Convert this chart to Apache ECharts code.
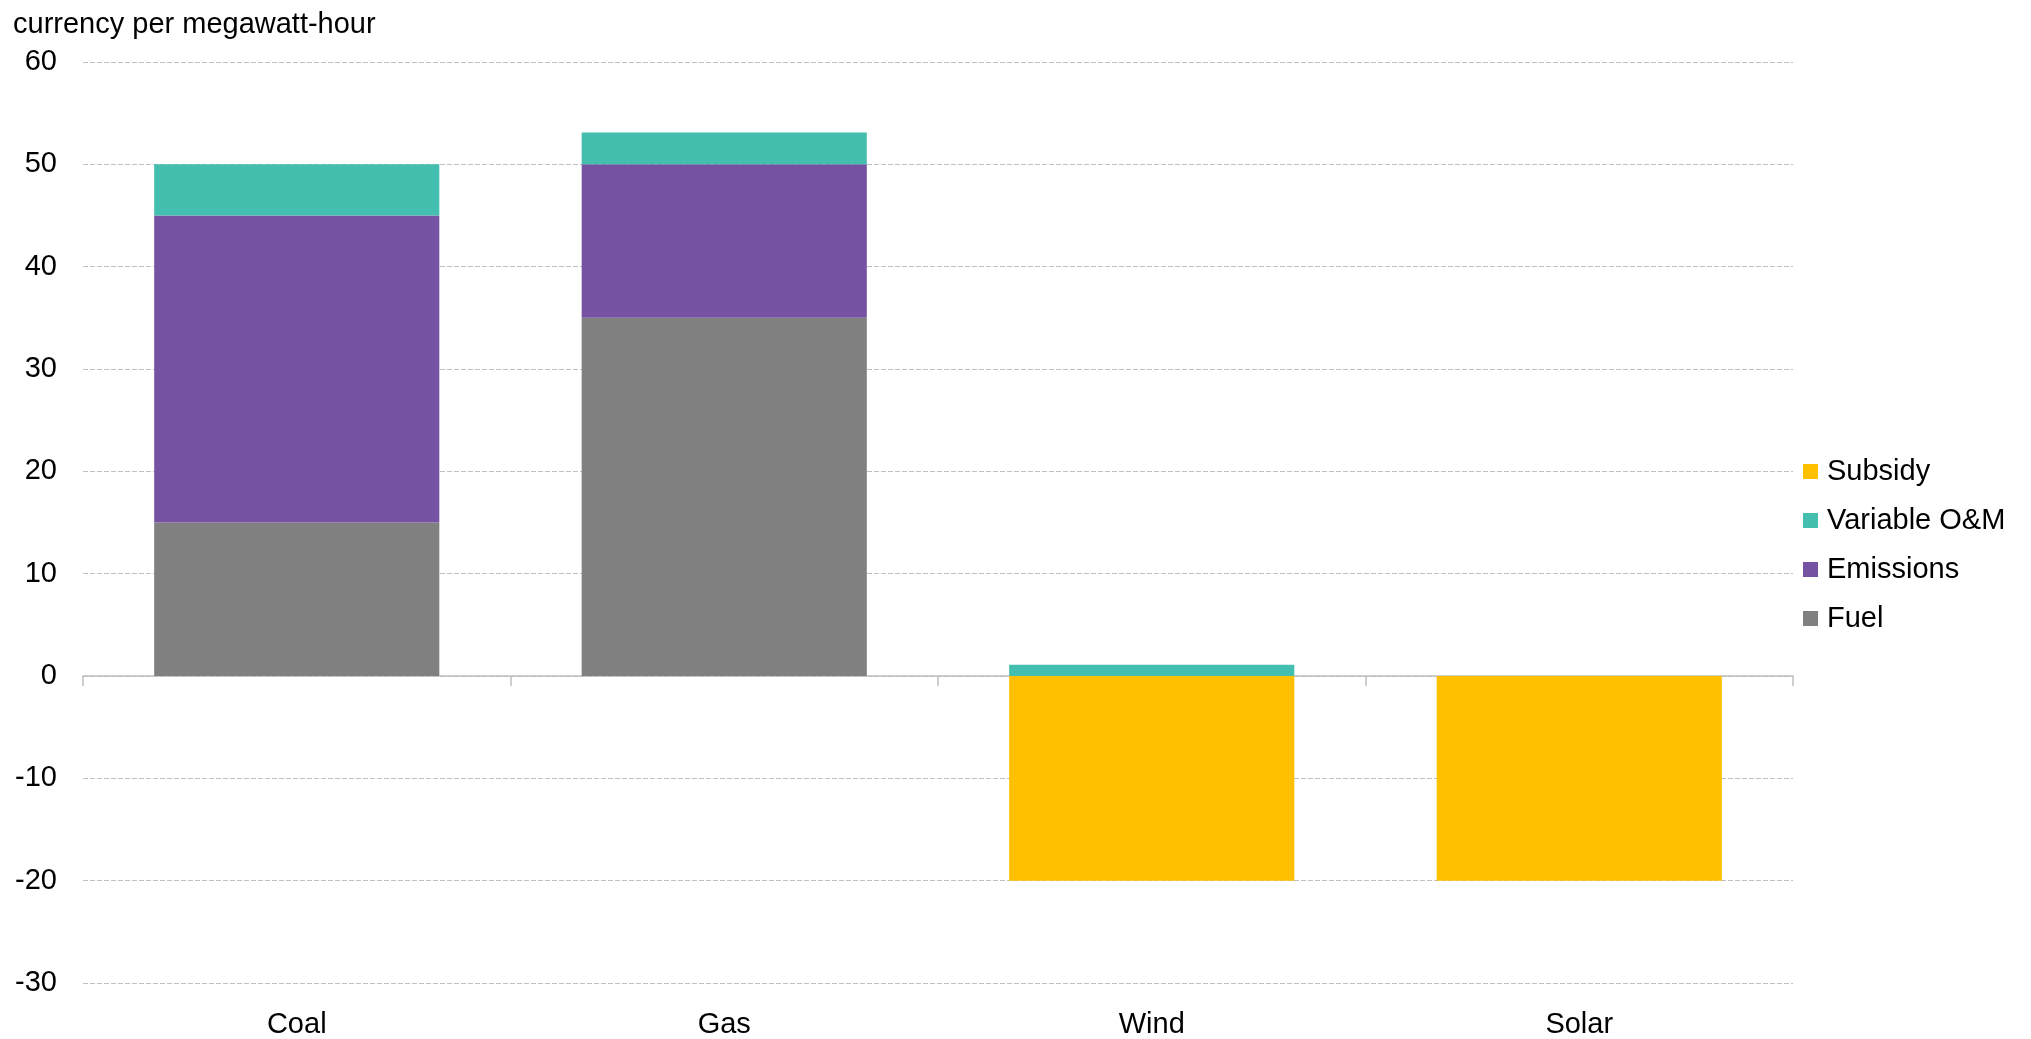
<!DOCTYPE html>
<html>
<head>
<meta charset="utf-8">
<script src="https://cdn.jsdelivr.net/npm/echarts@6/dist/echarts.min.js"></script>
<style>
html,body{margin:0;padding:0;background:#fff;}
#chart{width:2031px;height:1039px;}
</style>
</head>
<body>
<div id="chart"></div>
<script>
const categories = ['Coal', 'Gas', 'Wind', 'Solar'];
const fuel = [15, 35, 0, 0];
const emissions = [30, 15, 0, 0];
const variableOM = [5, 3.1, 1.1, 0];
const subsidy = [0, 0, -20, -20];
const yTicks = { min: -30, max: 60, interval: 10 };
const unitLabel = 'currency per megawatt-hour';

const FONT = '"Liberation Sans", Arial, sans-serif';
const chart = echarts.init(document.getElementById('chart'), null, { renderer: 'canvas' });

function barSeries(name, data, color) {
  return {
    name: name,
    type: 'bar',
    stack: 'total',
    xAxisIndex: 0,
    data: data,
    barCategoryGap: '33.3%',
    itemStyle: { color: color },
    emphasis: { disabled: true }
  };
}

chart.setOption({
  animation: false,
  backgroundColor: '#ffffff',
  textStyle: { fontFamily: FONT },
  title: {
    text: unitLabel,
    left: 8,
    top: 5,
    textStyle: { fontFamily: FONT, fontSize: 29, fontWeight: 'normal', color: '#000000' }
  },
  grid: { left: 83, right: 238, top: 62, bottom: 50, containLabel: false },
  legend: {
    orient: 'vertical',
    left: 1798,
    top: 452,
    itemWidth: 15,
    itemHeight: 15,
    itemGap: 20,
    icon: 'rect',
    data: ['Subsidy', 'Variable O&M', 'Emissions', 'Fuel'],
    textStyle: { fontFamily: FONT, fontSize: 29, color: '#000000', padding: [0, 0, 0, 4] },
    selectedMode: false
  },
  xAxis: [
    {
      type: 'category',
      data: categories,
      position: 'bottom',
      axisLine: { show: false, onZero: false },
      axisTick: { show: false },
      axisLabel: { fontFamily: FONT, fontSize: 29, color: '#000000', margin: 27 },
      splitLine: { show: false }
    },
    {
      type: 'category',
      data: categories,
      position: 'bottom',
      axisLine: { show: true, onZero: true, lineStyle: { color: '#bfbfbf', width: 1.5 } },
      axisTick: { show: true, length: 10, lineStyle: { color: '#bfbfbf', width: 1.5 } },
      axisLabel: { show: false },
      splitLine: { show: false }
    }
  ],
  yAxis: {
    type: 'value',
    min: yTicks.min,
    max: yTicks.max,
    interval: yTicks.interval,
    axisLine: { show: false },
    axisTick: { show: false },
    axisLabel: { fontFamily: FONT, fontSize: 29, color: '#000000', margin: 26 },
    splitLine: { show: true, lineStyle: { color: '#c0c0c0', type: [5, 2], width: 1 } }
  },
  series: [
    barSeries('Fuel', fuel, '#808080'),
    barSeries('Emissions', emissions, '#7653a2'),
    barSeries('Variable O&M', variableOM, '#44beae'),
    barSeries('Subsidy', subsidy, '#ffc000')
  ]
});
</script>
</body>
</html>
